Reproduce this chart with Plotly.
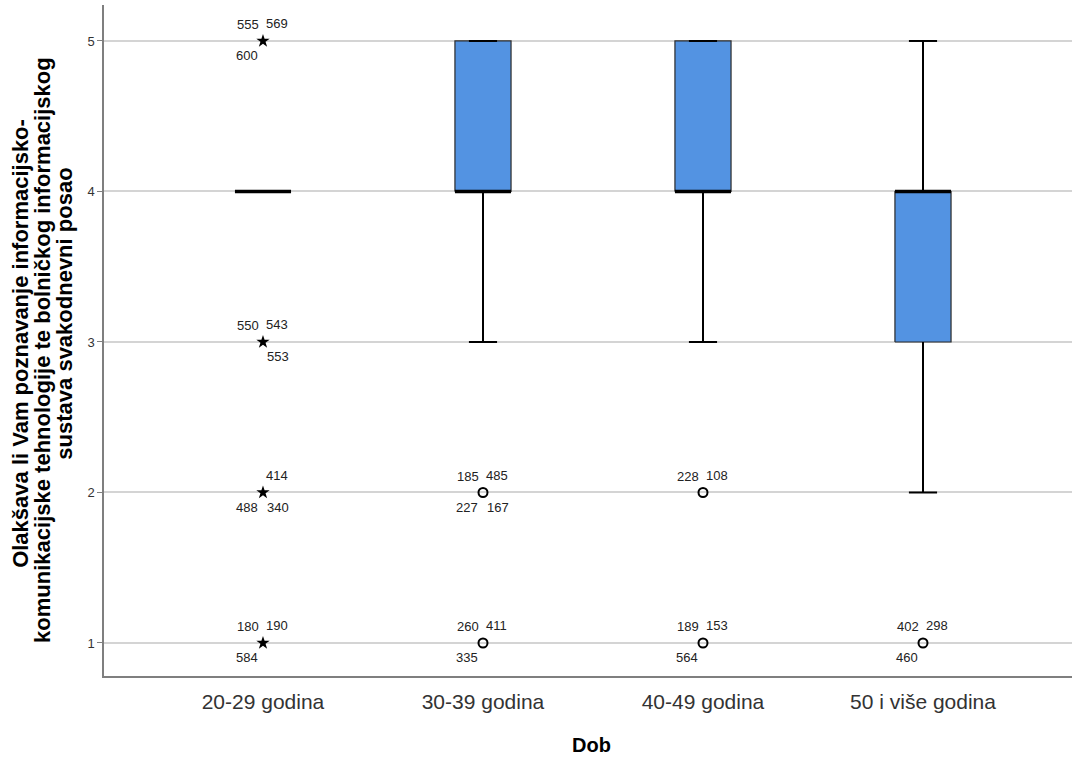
import plotly.graph_objects as go

# ---------------- data ----------------
categories = ["20-29 godina", "30-39 godina", "40-49 godina", "50 i više godina"]
q1 = [4, 4, 4, 3]
median = [4, 4, 4, 4]
q3 = [4, 5, 5, 4]
whisker_low = [4, 3, 3, 2]
whisker_high = [4, 5, 5, 5]

# outliers: group index, value, kind ("extreme" = star, "outlier" = circle)
outlier_group = [0, 0, 0, 0, 1, 1, 2, 2, 3]
outlier_value = [5, 3, 2, 1, 2, 1, 2, 1, 1]
outlier_kind = ["extreme", "extreme", "extreme", "extreme",
                "outlier", "outlier", "outlier", "outlier", "outlier"]
# case labels in slots: [upper-left, upper-right, lower-left, lower-right]
outlier_labels = [
    ["555", "569", "600", None],
    ["550", "543", None, "553"],
    [None, "414", "488", "340"],
    ["180", "190", "584", None],
    ["185", "485", "227", "167"],
    ["260", "411", "335", None],
    ["228", "108", None, None],
    ["189", "153", "564", None],
    ["402", "298", "460", None],
]

y_ticks = [1, 2, 3, 4, 5]
x_title = "Dob"
y_title_lines = [
    "Olakšava li Vam poznavanje informacijsko-",
    "komunikacijske tehnologije te bolničkog informacijskog",
    "sustava svakodnevni posao",
]

# ---------------- styling ----------------
FONT = "Liberation Sans, Arial, sans-serif"
BOX_FILL = "#5393E2"
BOX_HW = 0.1275
CAP_HW = 0.064

fig = go.Figure()

# boxes
for i in range(len(categories)):
    if q3[i] > q1[i]:
        fig.add_trace(go.Scatter(
            x=[i - BOX_HW, i + BOX_HW, i + BOX_HW, i - BOX_HW, i - BOX_HW],
            y=[q1[i], q1[i], q3[i], q3[i], q1[i]],
            mode="lines", fill="toself", fillcolor=BOX_FILL,
            line=dict(color="#2b2b2b", width=1.2),
            hoverinfo="skip", showlegend=False))

# whiskers + caps
wx, wy = [], []
for i in range(len(categories)):
    if whisker_low[i] < q1[i]:
        wx += [i, i, None]
        wy += [q1[i], whisker_low[i], None]
        wx += [i - CAP_HW, i + CAP_HW, None]
        wy += [whisker_low[i], whisker_low[i], None]
    if whisker_high[i] > q3[i] or (whisker_high[i] == q3[i] and q3[i] > q1[i]):
        if whisker_high[i] > q3[i]:
            wx += [i, i, None]
            wy += [q3[i], whisker_high[i], None]
        wx += [i - CAP_HW, i + CAP_HW, None]
        wy += [whisker_high[i], whisker_high[i], None]
fig.add_trace(go.Scatter(x=wx, y=wy, mode="lines",
                         line=dict(color="black", width=2),
                         hoverinfo="skip", showlegend=False))

# medians
mx, my = [], []
for i in range(len(categories)):
    mx += [i - BOX_HW, i + BOX_HW, None]
    my += [median[i], median[i], None]
fig.add_trace(go.Scatter(x=mx, y=my, mode="lines",
                         line=dict(color="black", width=3.5),
                         hoverinfo="skip", showlegend=False))

# outlier markers
for kind, sym, size, lw in [("extreme", "star", 10, 0), ("outlier", "circle-open", 9, 2)]:
    xs = [g for g, k in zip(outlier_group, outlier_kind) if k == kind]
    ys = [v for v, k in zip(outlier_value, outlier_kind) if k == kind]
    fig.add_trace(go.Scatter(x=xs, y=ys, mode="markers",
                             marker=dict(symbol=sym, size=size, color="black",
                                         line=dict(color="black", width=lw)),
                             hoverinfo="skip", showlegend=False))

# case labels
slot_shift = [(-15, 16), (14, 17), (-16, -15), (15, -15)]
for g, v, labs in zip(outlier_group, outlier_value, outlier_labels):
    for s, lab in enumerate(labs):
        if lab is None:
            continue
        dx, dy = slot_shift[s]
        fig.add_annotation(x=g, y=v, text=lab, showarrow=False,
                           xshift=dx, yshift=dy, xanchor="center", yanchor="middle",
                           font=dict(family=FONT, size=13, color="#222222"))

# y title (three lines)
title_pos = [(-83, 0.495), (-61, 0.486), (-39, 0.54)]
for line, (xs, yp) in zip(y_title_lines, title_pos):
    fig.add_annotation(xref="paper", yref="paper", x=0, y=yp, xshift=xs,
                       text="<b>" + line + "</b>", showarrow=False, textangle=-90,
                       xanchor="center", yanchor="middle",
                       font=dict(family=FONT, size=22, color="black"))

# x title
fig.add_annotation(xref="paper", yref="paper", x=0.504, y=0, yshift=-69,
                   text="<b>" + x_title + "</b>", showarrow=False,
                   xanchor="center", yanchor="middle",
                   font=dict(family=FONT, size=20, color="black"))

fig.update_layout(
    width=1072, height=760,
    margin=dict(l=104, r=0, t=5, b=84),
    paper_bgcolor="white", plot_bgcolor="white",
    showlegend=False,
    xaxis=dict(range=[-0.7227, 3.6773], tickvals=list(range(len(categories))),
               ticktext=categories, showgrid=False, zeroline=False,
               showline=True, linecolor="#7f7f7f", linewidth=1.5,
               ticks="", ticklabelstandoff=6,
               tickfont=dict(family=FONT, size=21, color="#333333"),
               fixedrange=True),
    yaxis=dict(range=[0.7807, 5.239], tickvals=y_ticks,
               showgrid=True, gridcolor="#d4d4d4", gridwidth=1.5,
               zeroline=False, showline=True, linecolor="#7f7f7f", linewidth=1.5,
               ticks="outside", ticklen=5, tickcolor="#7f7f7f",
               tickfont=dict(family=FONT, size=13, color="#333333"),
               fixedrange=True),
)

fig.write_html("out.html", config={"displayModeBar": False},
               post_script="document.body.style.margin='0';document.body.style.padding='0';")
